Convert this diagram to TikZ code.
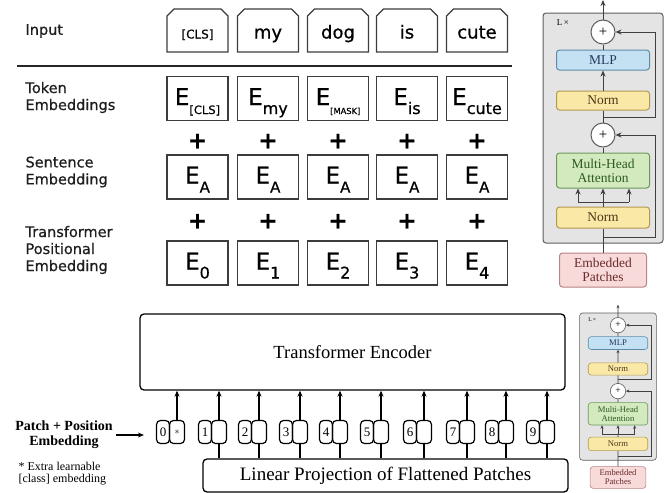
\documentclass[tikz,border=0pt]{standalone}
\usepackage{fontspec}
\setmainfont{Liberation Serif}
\setsansfont{DejaVu Sans}[FakeBold=0.7]
\usetikzlibrary{positioning,shapes.misc,arrows.meta}

\definecolor{labelgrey}{HTML}{1E1E1E}
\definecolor{boxline}{HTML}{3C3C3C}
\definecolor{framefill}{HTML}{E4E4E4}
\definecolor{frameline}{HTML}{5E5E5E}
\definecolor{mlpfill}{HTML}{C3E1F2}
\definecolor{mlpline}{HTML}{5D8CAA}
\definecolor{mlptext}{HTML}{26395F}
\definecolor{normfill}{HTML}{FAE8A7}
\definecolor{normline}{HTML}{B39A4F}
\definecolor{normtext}{HTML}{4A3818}
\definecolor{attnfill}{HTML}{D2EABE}
\definecolor{attnline}{HTML}{6C9A5A}
\definecolor{attntext}{HTML}{2D5A20}
\definecolor{patchfill}{HTML}{F8DADA}
\definecolor{patchline}{HTML}{B98484}
\definecolor{patchtext}{HTML}{6A2B2B}

\newcommand{\emb}[2][16]{{\fontsize{23}{23}\selectfont E}\raisebox{-9pt}{\fontsize{#1}{#1}\selectfont #2}}

% one encoder block, local origin at the top of its frame
\newcommand{\encblock}[1]{%
  \node[blockframe,minimum width=120,minimum height=230] (#1-frame) at (0,115) {};
  \node[anchor=west,font=\fontsize{9}{9}\selectfont] (#1-lx) at (-50,10) {L\,×};
  \node[addnode] (#1-add1) at (0,19) {+};
  \node[layer,draw=mlpline,fill=mlpfill,text=mlptext,minimum height=20] (#1-mlp) at (0,47) {MLP};
  \node[layer,draw=normline,fill=normfill,text=normtext,minimum height=19] (#1-norm1) at (0,87.5) {Norm};
  \coordinate (#1-b1) at (0,104);
  \node[addnode] (#1-add2) at (0,122) {+};
  \node[layer,draw=attnline,fill=attnfill,text=attntext,minimum height=35] (#1-mha) at (0,157.5) {Multi-Head\\Attention};
  \coordinate (#1-s1) at (-25,189);
  \coordinate (#1-s2) at (0,189);
  \coordinate (#1-s3) at (26,189);
  \node[layer,draw=normline,fill=normfill,text=normtext,minimum height=21] (#1-norm2) at (0,204.5) {Norm};
  \coordinate (#1-b2) at (0,224);
  \node[layer,draw=patchline,fill=patchfill,text=patchtext,minimum width=87,minimum height=34] (#1-emb) at (0,257) {Embedded\\Patches};
  \coordinate (#1-out) at (0,-13);
  \draw[flow] (#1-emb) -- (#1-norm2);
  \draw[flow] (#1-norm2) -- (#1-s2);
  \draw[flow] (#1-s1) -- (#1-s3);
  \foreach \s in {s1,s2,s3} \draw[flow,->] (#1-\s) -- (#1-\s |- #1-mha.south);
  \draw[flow] (#1-mha) -- (#1-add2);
  \draw[flow] (#1-add2) -- (#1-norm1);
  \draw[flow,->] (#1-norm1) -- (#1-mlp);
  \draw[flow] (#1-mlp) -- (#1-add1);
  \draw[flow,->] (#1-add1) -- (#1-out);
  \draw[flow,->] (#1-b1) -- ++(52,0) |- (#1-add1);
  \draw[flow,->] (#1-b2) -- ++(52,0) |- (#1-add2);
}

\begin{document}
\begin{tikzpicture}[x=1pt,y=-1pt,>={Stealth[length=6pt,width=5pt]}]
    \tikzstyle{rowlabel} = [anchor=west,align=left,text=labelgrey,font=\sffamily\fontsize{14.5}{17}\selectfont]
    \tikzstyle{wordbox} = [draw=boxline,line width=1.4pt,chamfered rectangle,chamfered rectangle corners={north west,north east},chamfered rectangle xsep=3.5pt,chamfered rectangle ysep=3.5pt,minimum width=61,minimum height=43,inner sep=0pt,text height=18,text depth=2,font=\sffamily\fontsize{18}{18}\selectfont]
    \tikzstyle{embbox} = [draw=boxline,line width=1.4pt,minimum width=61,minimum height=44,inner sep=0pt,text height=21,text depth=8,font=\sffamily]
    \tikzstyle{plus} = [inner sep=0pt,font=\sffamily\bfseries\fontsize{23}{23}\selectfont]
    \tikzstyle{blockframe} = [draw=frameline,fill=framefill,rounded corners=3,inner sep=0pt]
    \tikzstyle{layer} = [rounded corners=3,minimum width=93,inner sep=0pt,align=center,font=\fontsize{13.5}{14}\selectfont]
    \tikzstyle{addnode} = [draw=frameline,fill=white,circle,minimum size=24,inner sep=0pt,font=\fontsize{15}{15}\selectfont]
    \tikzstyle{flow} = [draw=black!75]
    \tikzstyle{vitbox} = [draw,line width=1.3pt,rounded corners=4,inner sep=0pt]
    \tikzstyle{posbox} = [draw,line width=1.2pt,rounded corners=4,minimum width=13,minimum height=23,inner sep=0pt,font=\fontsize{13}{13}\selectfont]
    \tikzstyle{patchbox} = [draw,line width=1.2pt,rounded corners=4,minimum width=15,minimum height=23,inner sep=0pt]
    \useasboundingbox (0,0) rectangle (665,493);

    % BERT style input embeddings
    \node[rowlabel] (inlabel) at (22,31) {Input};
    \node[rowlabel] (toklabel) at (22,97.5) {Token\\Embeddings};
    \node[rowlabel] (senlabel) at (22,172) {Sentence\\Embedding};
    \node[rowlabel] (poslabel) at (22,250) {Transformer\\Positional\\Embedding};

    \node[wordbox] (word1) at (197.5,30.5) {\fontsize{12}{12}\selectfont[CLS]};
    \node[wordbox] (word2) at (268,30.5) {my};
    \node[wordbox] (word3) at (338,30.5) {dog};
    \node[wordbox] (word4) at (407,30.5) {is};
    \node[wordbox] (word5) at (477,30.5) {cute};
    \draw[line width=2.6pt,black!85] (17,66) -- (512,66);

    \node[embbox] (tok1) at (197.5,98.5) {\emb[11.5]{[CLS]}};
    \node[embbox] (tok2) at (268,98.5) {\emb{my}};
    \node[embbox] (tok3) at (338,98.5) {\emb[8.3]{[MASK]}};
    \node[embbox] (tok4) at (407,98.5) {\emb{is}};
    \node[embbox] (tok5) at (477,98.5) {\emb{cute}};

    \node[embbox] (sen1) at (197.5,177) {\emb[15]{A}};
    \node[embbox] (sen2) at (268,177) {\emb[15]{A}};
    \node[embbox] (sen3) at (338,177) {\emb[15]{A}};
    \node[embbox] (sen4) at (407,177) {\emb[15]{A}};
    \node[embbox] (sen5) at (477,177) {\emb[15]{A}};

    \node[embbox] (pos1) at (197.5,263) {\emb{0}};
    \node[embbox] (pos2) at (268,263) {\emb{1}};
    \node[embbox] (pos3) at (338,263) {\emb{2}};
    \node[embbox] (pos4) at (407,263) {\emb{3}};
    \node[embbox] (pos5) at (477,263) {\emb{4}};

    \foreach \i in {1,...,5} {
      \path (tok\i.south) -- (sen\i.north) node[plus,pos=0.6] (plusA\i) {+};
      \path (sen\i.south) -- (pos\i.north) node[plus,pos=0.53] (plusB\i) {+};
    }

    % encoder block, full size and small copy
    \begin{scope}[shift={(603,13)},line width=1pt]
      \encblock{big}
    \end{scope}
    \begin{scope}[shift={(618,313)},scale=0.64,transform shape,line width=0.6pt,>={Stealth[length=3.5pt,width=3pt]}]
      \encblock{small}
    \end{scope}

    % ViT input pipeline
    \node[vitbox,minimum width=425,minimum height=76,font=\fontsize{18.5}{18.5}\selectfont] (encoder) at (352.5,352) {Transformer Encoder};
    \node[vitbox,minimum width=365,minimum height=33,font=\fontsize{19}{19}\selectfont] (proj) at (385.5,475.5) {Linear Projection of Flattened Patches};
    \foreach \x [count=\i from 0] in {177,219,259,300,340,381,424,467,506,547} {
      \node[posbox] (num\i) at (\x-14,432) {\i};
      \node[patchbox] (patch\i) at (\x,432) {};
      \draw[->,line width=1.2pt] (patch\i) -- (patch\i |- encoder.south);
    }
    \node[inner sep=0pt] (cls) at (patch0) {$\ast$};
    \foreach \i in {1,...,9} \draw[line width=1.2pt] (proj.north -| patch\i) -- (patch\i);

    \node[align=center,font=\bfseries\fontsize{14}{15}\selectfont] (pplabel) at (64,435) {Patch + Position\\Embedding};
    \draw[->,line width=1.2pt,shorten >=12pt] (pplabel.east) -- (pplabel.east -| num0.west);
    \node[anchor=north west,align=left,font=\fontsize{12}{12}\selectfont] (footnote) at (15,459) {* Extra learnable\\{[}class{]} embedding};
\end{tikzpicture}
\end{document}
